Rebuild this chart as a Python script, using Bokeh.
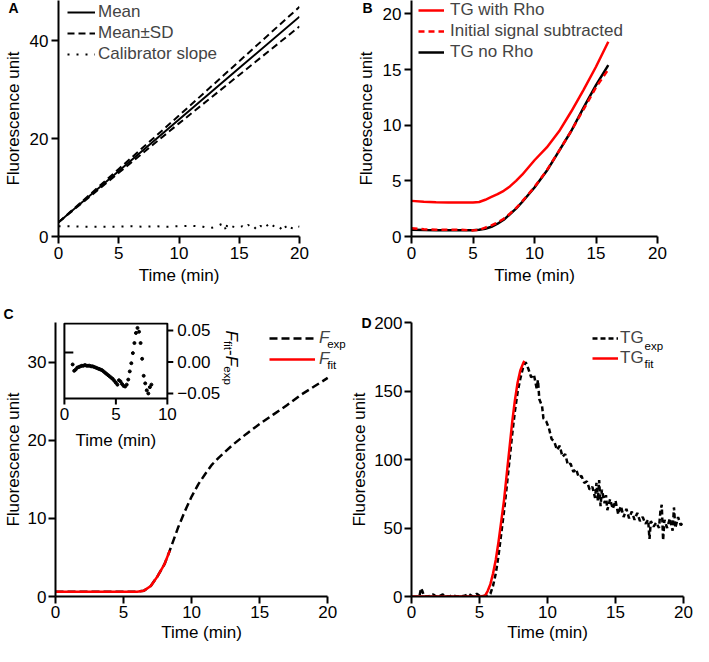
import math
from bokeh.plotting import figure
from bokeh.layouts import column, row
from bokeh.models import (Range1d, FixedTicker, Legend, LegendItem, Label, Title)
from bokeh.core.properties import value
from bokeh.embed import file_html
from bokeh.resources import INLINE

FONT = "Liberation Sans"
RED = "#ff0000"
BLACK = "#000000"

# ---------------- data ----------------
# Panel A
a_time = [0, 5, 10, 15, 20]
a_mean = [2.9, 13.4, 23.9, 34.4, 44.9]
a_upper = [2.9, 13.8, 24.7, 35.8, 46.9]
a_lower = [2.9, 13.0, 23.1, 33.0, 42.9]
a_cal_time = [0, 1, 2, 3, 4, 5, 6, 7, 8, 9, 10, 11, 12,
              12.5, 12.75, 13, 13.25, 13.5, 13.75, 13.9, 14,
              14.25, 14.5, 14.75, 15, 15.25, 15.5, 15.75, 16, 16.25, 16.5, 16.75, 17,
              17.25, 17.5, 17.75, 18, 18.25, 18.5, 18.75, 19, 19.25, 19.5, 19.75, 20]
a_cal = [2.1, 2.1, 2.0, 2.0, 2.0, 2.0, 2.1, 2.0, 2.1, 2.0, 2.1, 2.2, 2.0,
         1.7, 1.8, 2.0, 2.2, 2.5, 2.7, 1.0, 2.6,
         2.3, 2.0, 1.9, 1.8, 2.1, 1.7, 2.4, 1.6, 1.9, 1.3, 2.2, 1.8,
         2.5, 1.7, 2.3, 1.9, 2.2, 1.5, 2.4, 1.3, 1.8, 1.6, 2.2, 2.0]
a_xticks = [0, 5, 10, 15, 20]
a_yticks = [0, 20, 40]

# Panel B
b_time = [0, 1, 2, 3, 4, 5, 5.5, 6, 6.5, 7, 7.5, 8, 8.5, 9, 10, 11, 12, 13, 14, 15, 16]
b_rho = [3.2, 3.12, 3.07, 3.05, 3.05, 3.05, 3.1, 3.3, 3.55, 3.8, 4.1, 4.5, 5.0, 5.55,
         6.85, 8.0, 9.45, 11.25, 13.2, 15.25, 17.5]
b_sub = [0.75, 0.65, 0.6, 0.6, 0.6, 0.55, 0.6, 0.8, 1.0, 1.25, 1.6, 2.05, 2.55, 3.15,
         4.45, 5.95, 7.7, 9.5, 11.45, 13.4, 15.0]
b_norho = [0.6, 0.58, 0.57, 0.57, 0.57, 0.57, 0.6, 0.7, 0.87, 1.15, 1.5, 2.0, 2.5, 3.1,
           4.4, 5.9, 7.7, 9.5, 11.6, 13.6, 15.4]
b_xticks = [0, 5, 10, 15, 20]
b_yticks = [0, 5, 10, 15, 20]

# Panel C
c_time = [0, 1, 2, 3, 4, 5, 5.5, 6, 6.5, 7, 7.5, 8, 8.4, 9, 9.5, 10, 10.5, 11, 11.5, 12,
          13, 14, 15, 16, 17, 18, 19, 20]
c_exp = [0.6, 0.6, 0.6, 0.6, 0.6, 0.6, 0.6, 0.62, 0.75, 1.35, 2.6, 4.1, 5.9, 8.8, 10.9, 12.8,
         14.4, 15.7, 16.9, 17.8, 19.4, 20.8, 22.1, 23.3, 24.5, 25.8, 26.9, 28.0]
c_fit_time = [0, 1, 2, 3, 4, 5, 5.5, 6, 6.5, 7, 7.5, 8, 8.4]
c_fit = [0.6, 0.6, 0.6, 0.6, 0.6, 0.6, 0.6, 0.62, 0.75, 1.35, 2.6, 4.1, 5.9]
c_xticks = [0, 5, 10, 15, 20]
c_yticks = [0, 10, 20, 30]

# Panel C inset (residuals F_fit - F_exp)
i_time = [0.8, 0.95, 1.1, 1.25, 1.4, 1.55, 1.7, 1.85, 2.0, 2.15,
          2.3, 2.45, 2.6, 2.75, 2.9, 3.05, 3.2, 3.35, 3.5, 3.65,
          3.8, 3.95, 4.1, 4.25, 4.4, 4.55, 4.7, 4.85, 5.0, 5.15,
          5.3, 5.45, 5.6, 5.75, 5.9, 6.05, 6.2, 6.35, 6.5, 6.65,
          6.8, 6.95, 7.1, 7.25, 7.4, 7.55, 7.7, 7.85, 8.0, 8.15,
          8.3, 8.45]
i_resid = [-0.004, -0.014, -0.012, -0.009, -0.008, -0.007, -0.006, -0.006, -0.005, -0.006,
           -0.006, -0.006, -0.007, -0.007, -0.008, -0.009, -0.010, -0.011, -0.012, -0.013,
           -0.015, -0.017, -0.019, -0.021, -0.023, -0.025, -0.027, -0.030, -0.033, -0.036,
           -0.029, -0.031, -0.035, -0.038, -0.039, -0.036, -0.028, -0.015, -0.002, 0.014,
           0.030, 0.046, 0.054, 0.048, 0.030, 0.005, -0.022, -0.034, -0.045, -0.050,
           -0.040, -0.036]
i_xlim = (0, 10)
i_ylim = (-0.058, 0.061)
i_xticks = [0, 5, 10]
i_xtick_labels = ["0", "5", "10"]
i_yticks = [-0.05, 0.0, 0.05]
i_ytick_labels = ["\u22120.05", "0.00", "0.05"]
i_left_tick = [0.015]

# Panel D
d_time = [0.6, 0.7, 0.8, 0.9, 1.0, 1.2, 1.4, 1.6, 1.8, 2.0,
          2.3, 2.5, 2.8, 3.0, 3.3, 3.6, 3.9, 4.2, 4.5, 4.8,
          5.0, 5.2, 5.4, 5.6, 5.8, 6.0, 6.2, 6.4, 6.6, 6.8,
          7.0, 7.2, 7.4, 7.6, 7.8, 8.0, 8.2, 8.4, 8.6, 8.8,
          9.0, 9.2, 9.3, 9.4, 9.6, 9.7, 9.9, 10.1, 10.3, 10.5,
          10.7, 10.9, 11.1, 11.3, 11.5, 11.7, 11.9, 12.1, 12.3, 12.5,
          12.7, 12.9, 13.1, 13.3, 13.5, 13.6, 13.7, 13.8, 13.9, 14.0,
          14.2, 14.3, 14.4, 14.6, 14.8, 15.0, 15.2, 15.4, 15.6, 15.8,
          16.0, 16.2, 16.4, 16.6, 16.8, 17.0, 17.2, 17.4, 17.5, 17.6,
          17.8, 18.0, 18.2, 18.3, 18.4, 18.5, 18.6, 18.8, 19.0, 19.2,
          19.3, 19.4, 19.6, 19.8, 20.0]
d_exp = [1, 6, 4, 1, 0, 0, 0.5, 1.5, 0, 0,
         1.5, 0, 0, 1, 0, 0, 0.5, 2, 0, 2,
         0.5, 0, 0.5, 0.5, 2, 8, 17, 30, 46, 62,
         80, 99, 118, 135, 149, 159, 167, 171, 166, 160,
         162, 152, 158, 144, 139, 130, 128, 123, 115, 113,
         107, 110, 102, 104, 96, 97, 91, 93, 87, 88,
         83, 84, 78, 80, 72, 83, 70, 85, 66, 78,
         68, 74, 63, 71, 64, 70, 60, 66, 58, 64,
         57, 62, 56, 61, 55, 58, 53, 56, 42, 55,
         51, 54, 50, 62, 67, 41, 56, 50, 57, 48,
         65, 50, 58, 52, 55]
d_fit_time = [0, 1, 2, 3, 4, 5, 5.4, 5.6, 5.8, 6.0, 6.2, 6.4, 6.6, 6.8,
              7.0, 7.2, 7.4, 7.6, 7.8, 8.0, 8.2, 8.3]
d_fit = [0, 0, 0, 0, 0, 0, 0.5, 4, 9, 17, 27, 40, 55, 70,
         89, 108, 127, 143, 156, 165, 170, 172]
d_xticks = [0, 5, 10, 15, 20]
d_yticks = [0, 50, 100, 150, 200]

assert len(a_cal_time) == len(a_cal)
assert len(b_time) == len(b_rho) == len(b_sub) == len(b_norho)
assert len(i_time) == len(i_resid)
assert len(d_time) == len(d_exp)
assert len(d_fit_time) == len(d_fit)


# ---------------- helpers ----------------
def make_fig(w, h, l, r, t, b, xr, yr, extra_right_px=0):
    fw = w - l - r
    x0, x1 = xr
    x1_ext = x1 + (x1 - x0) * extra_right_px / (fw - extra_right_px) if extra_right_px else x1
    p = figure(width=w, height=h, title=None, output_backend="svg", toolbar_location=None,
               x_range=Range1d(x0, x1_ext), y_range=Range1d(*yr),
               min_border_left=l, min_border_right=r, min_border_top=t, min_border_bottom=b)
    p.outline_line_color = None
    p.xgrid.visible = False
    p.ygrid.visible = False
    p._fw = fw
    p._fh = h - t - b
    p._xb = (x0, x1)
    return p


def style_axes(p, xt, yt, label_sd=3, title_sd=4):
    p.xaxis.ticker = FixedTicker(ticks=xt)
    p.yaxis.ticker = FixedTicker(ticks=yt)
    p.xaxis.bounds = p._xb
    p.xaxis.axis_label = "Time (min)"
    p.yaxis.axis_label = "Fluorescence unit"
    for ax in list(p.xaxis) + list(p.yaxis):
        ax.axis_line_width = 2
        ax.axis_line_color = BLACK
        ax.major_tick_line_width = 2
        ax.major_tick_line_color = BLACK
        ax.major_tick_out = 7
        ax.major_tick_in = 0
        ax.minor_tick_line_color = None
        ax.major_label_text_font = FONT
        ax.major_label_text_font_size = "17px"
        ax.major_label_text_color = BLACK
        ax.axis_label_text_font = FONT
        ax.axis_label_text_font_size = "17px"
        ax.axis_label_text_font_style = "normal"
        ax.axis_label_text_color = BLACK
        ax.major_label_standoff = label_sd
        ax.axis_label_standoff = title_sd


def dx(p, px):
    s, e = p.x_range.start, p.x_range.end
    return s + (e - s) * px / p._fw


def dy(p, py):
    s, e = p.y_range.start, p.y_range.end
    return s + (e - s) * py / p._fh


def add_text(p, px, py, text, size="17px", style="normal", align="left",
             baseline="middle", angle=0.0):
    p.add_layout(Label(x=dx(p, px), y=dy(p, py), text=text, text_font=FONT,
                       text_font_size=size, text_font_style=style, text_align=align,
                       text_baseline=baseline, angle=angle, text_color=BLACK))


def add_legend(p, items, vx, top_px, glyph_w, standoff, item_h=20, spacing=1, style="normal"):
    n = len(items)
    height = n * item_h + (n - 1) * spacing
    vy = p._fh - top_px - height
    leg = Legend(items=[LegendItem(label=lbl, renderers=[r]) for lbl, r in items],
                 location=(vx, vy), padding=0, spacing=spacing, margin=0,
                 glyph_width=glyph_w, glyph_height=item_h, label_height=item_h,
                 label_standoff=standoff, border_line_color=None, background_fill_alpha=0,
                 label_text_font=FONT, label_text_font_size="17px",
                 label_text_font_style=style, label_text_baseline="middle")
    p.add_layout(leg)


def panel_letter(p, letter, offset, standoff):
    p.add_layout(Title(text=letter, align="left", offset=offset, standoff=standoff,
                       vertical_align="bottom", text_font=FONT, text_font_size="14px",
                       text_font_style="bold", text_color=BLACK), "above")


LEFT_W, RIGHT_W = 347, 346
TOP_H, BOT_H = 296, 350

# ---------------- Panel A ----------------
pA = make_fig(LEFT_W, TOP_H, 52, 48, 0, 60, (0, 20), (0, 48.2))
style_axes(pA, a_xticks, a_yticks)
rA_mean = pA.line(a_time, a_mean, line_color=BLACK, line_width=2)
rA_up = pA.line(a_time, a_upper, line_color=BLACK, line_width=2, line_dash="7 4")
pA.line(a_time, a_lower, line_color=BLACK, line_width=2, line_dash="7 4")
rA_cal = pA.line(a_cal_time, a_cal, line_color=BLACK, line_width=2, line_dash="2 7")
add_legend(pA, [("Mean", rA_mean), ("Mean\u00b1SD", rA_up), ("Calibrator slope", rA_cal)],
           vx=9, top_px=2, glyph_w=28, standoff=3)
panel_letter(pA, "A", -50, -30)

# ---------------- Panel B ----------------
pB = make_fig(RIGHT_W, TOP_H, 64, 36, 0, 60, (0, 20), (0, 21.2))
style_axes(pB, b_xticks, b_yticks)
rB_rho = pB.line(b_time, b_rho, line_color=RED, line_width=2.5)
rB_no = pB.line(b_time, b_norho, line_color=BLACK, line_width=2.5)
rB_sub = pB.line(b_time, b_sub, line_color=RED, line_width=2.5, line_dash="6 4")
add_legend(pB, [("TG with Rho", rB_rho), ("Initial signal subtracted", rB_sub), ("TG no Rho", rB_no)],
           vx=7, top_px=0, glyph_w=26, standoff=6)
panel_letter(pB, "B", -49, -30)

# ---------------- Panel C ----------------
# frame extends 20 px past x = 20 so that the legend text is not clipped
pC = make_fig(LEFT_W, BOT_H, 52, 0, 26, 50, (0, 20), (0, 35.1), extra_right_px=20)
style_axes(pC, c_xticks, c_yticks, label_sd=2, title_sd=2)
rC_exp = pC.line(c_time, c_exp, line_color=BLACK, line_width=2.5, line_dash="8 4")
rC_fit = pC.line(c_fit_time, c_fit, line_color=RED, line_width=2.5)
add_legend(pC, [("F", rC_exp), ("F", rC_fit)], vx=214, top_px=6, glyph_w=46, standoff=4,
           style="italic")
add_text(pC, 274.5, pC._fh - 16 - 5, "exp", size="11.5px")
add_text(pC, 274.5, pC._fh - 37 - 5, "fit", size="11.5px")
panel_letter(pC, "C", -52, 2)

# ---------------- inset drawn inside panel C (own ranges) ----------------
IN_L, IN_TOP, IN_W, IN_H = 9, 1, 104, 75      # inset box in px, relative to C's frame
ux = (i_xlim[1] - i_xlim[0]) / IN_W
uy = (i_ylim[1] - i_ylim[0]) / IN_H
ix0 = i_xlim[0] - IN_L * ux
iy0 = i_ylim[0] - (pC._fh - IN_TOP - IN_H) * uy
pC.extra_x_ranges = {"ix": Range1d(ix0, ix0 + pC._fw * ux)}
pC.extra_y_ranges = {"iy": Range1d(iy0, iy0 + pC._fh * uy)}
IN = dict(x_range_name="ix", y_range_name="iy")

pC.quad(left=[i_xlim[0]], right=[i_xlim[1]], bottom=[i_ylim[0]], top=[i_ylim[1]],
        fill_color="white", line_color=BLACK, line_width=2, **IN)
pC.scatter(i_time, i_resid, marker="circle", size=3, color=BLACK, **IN)
# bottom ticks + labels
pC.segment(x0=i_xticks, y0=[i_ylim[0]] * len(i_xticks), x1=i_xticks,
           y1=[i_ylim[0] - 6 * uy] * len(i_xticks), line_color=BLACK, line_width=2, **IN)
pC.text(x=i_xticks, y=[i_ylim[0] - 9 * uy] * len(i_xticks), text=i_xtick_labels,
        text_font=value(FONT), text_font_size=value("17px"), text_align="center",
        text_baseline="top", text_color=BLACK, **IN)
pC.text(x=[(i_xlim[0] + i_xlim[1]) / 2], y=[i_ylim[0] - 32 * uy], text=["Time (min)"],
        text_font=value(FONT), text_font_size=value("17px"), text_align="center",
        text_baseline="top", text_color=BLACK, **IN)
# right ticks + labels
pC.segment(x0=[i_xlim[1]] * len(i_yticks), y0=i_yticks, x1=[i_xlim[1] + 6 * ux] * len(i_yticks),
           y1=i_yticks, line_color=BLACK, line_width=2, **IN)
pC.text(x=[i_xlim[1] + 10 * ux] * len(i_yticks), y=i_yticks, text=i_ytick_labels,
        text_font=value(FONT), text_font_size=value("17px"), text_align="left",
        text_baseline="middle", text_color=BLACK, **IN)
# small inward tick on the left edge
pC.segment(x0=[i_xlim[0]] * len(i_left_tick), y0=i_left_tick,
           x1=[i_xlim[0] + 9 * ux] * len(i_left_tick), y1=i_left_tick,
           line_color=BLACK, line_width=2, **IN)
# rotated axis title  F_fit-F_exp  (reads top to bottom)
base_x = i_xlim[1] + 65 * ux
top_y = i_ylim[1] - 7 * uy
pieces = [("F", "17px", "italic", 0.0, False),
          ("fit", "11.5px", "normal", 10.6, True),
          ("-", "17px", "normal", 19.5, False),
          ("F", "17px", "italic", 25.2, False),
          ("exp", "11.5px", "normal", 35.8, True)]
for txt, size, style, off, sub in pieces:
    pC.add_layout(Label(x=base_x - (4 * ux if sub else 0), y=top_y - off * uy, text=txt,
                        text_font=FONT, text_font_size=size, text_font_style=style,
                        text_align="left", text_baseline="alphabetic", angle=-math.pi / 2,
                        text_color=BLACK, **IN))

# ---------------- Panel D ----------------
pD = make_fig(RIGHT_W, BOT_H, 64, 10, 26, 50, (0, 20), (0, 200))
style_axes(pD, d_xticks, d_yticks, label_sd=2, title_sd=2)
rD_exp = pD.line(d_time, d_exp, line_color=BLACK, line_width=2.5, line_dash="5 3")
rD_fit = pD.line(d_fit_time, d_fit, line_color=RED, line_width=2.5)
add_legend(pD, [("TG", rD_exp), ("TG", rD_fit)], vx=181, top_px=8, glyph_w=26, standoff=2,
           item_h=20, spacing=-2)
add_text(pD, 233, pD._fh - 18 - 5, "exp", size="11.5px")
add_text(pD, 233, pD._fh - 36 - 5, "fit", size="11.5px")
panel_letter(pD, "D", -50, -16)

layout = column(row(pA, pB), row(pC, pD))

open("out.html", "w").write(file_html(layout, INLINE))
